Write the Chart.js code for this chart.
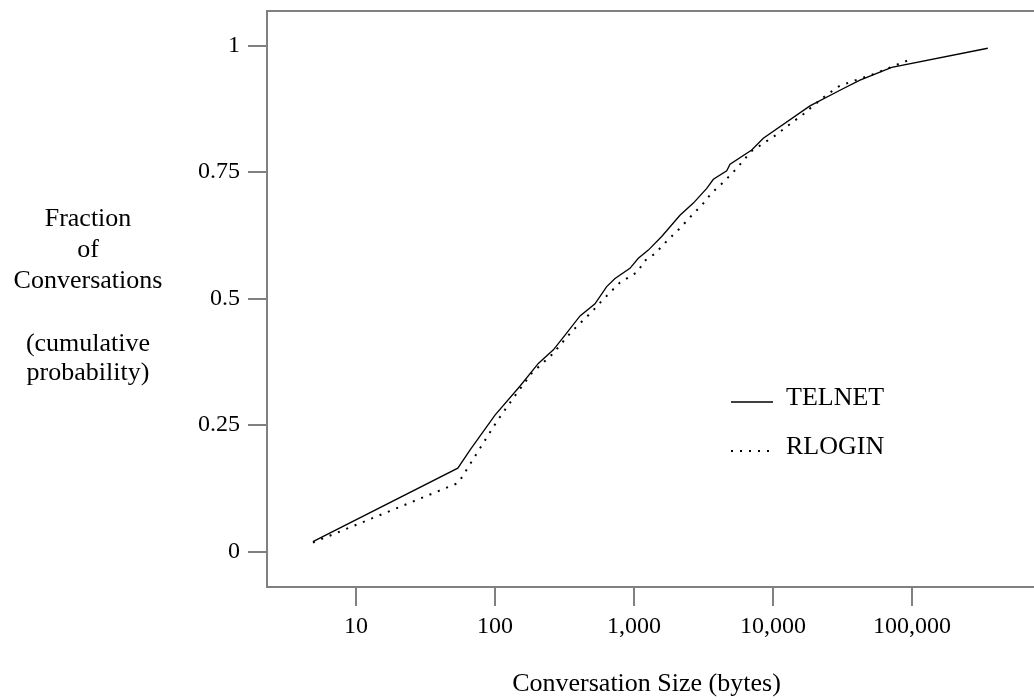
<!DOCTYPE html>
<html>
<head>
<meta charset="utf-8">
<script src="https://cdn.jsdelivr.net/npm/chart.js@4/dist/chart.umd.min.js"></script>
<style>
  html, body { margin: 0; padding: 0; background: #ffffff; }
  #wrap { width: 1034px; height: 700px; position: relative; }
</style>
</head>
<body>
<div id="wrap"><canvas id="cdf"></canvas></div>
<script>
// Conversation size (bytes) and cumulative fraction, per protocol
const telnetBytes = [4.9, 54, 67, 100, 151, 205, 263, 319, 409, 524, 636, 730, 935, 1074, 1268, 1582, 2142, 2673, 3337, 3724, 4647, 4909, 7030, 8517, 18450, 30340, 42270, 71450, 350800];
const telnetFraction = [0.020, 0.165, 0.203, 0.270, 0.327, 0.372, 0.399, 0.428, 0.466, 0.490, 0.524, 0.540, 0.560, 0.580, 0.596, 0.623, 0.665, 0.689, 0.718, 0.736, 0.753, 0.766, 0.794, 0.817, 0.881, 0.912, 0.932, 0.957, 0.995];

const rloginBytes = [4.9, 54.5, 81.6, 104, 139, 184, 256, 356, 497, 602, 793, 1064, 1181, 1416, 1737, 2120, 2570, 3120, 3622, 4390, 5420, 6950, 10450, 13240, 16790, 18980, 24330, 30340, 39530, 53330, 72610, 99500];
const rloginFraction = [0.018, 0.136, 0.213, 0.259, 0.308, 0.353, 0.389, 0.435, 0.474, 0.499, 0.532, 0.553, 0.574, 0.589, 0.615, 0.638, 0.663, 0.687, 0.709, 0.730, 0.756, 0.791, 0.823, 0.845, 0.866, 0.879, 0.903, 0.921, 0.932, 0.944, 0.959, 0.974];

const xTickValues = [10, 100, 1000, 10000, 100000];
const yTickValues = [0, 0.25, 0.5, 0.75, 1];
const yTickLabels = ['0', '0.25', '0.5', '0.75', '1'];

const seriesNames = ['TELNET', 'RLOGIN'];
const xTitle = 'Conversation Size (bytes)';
const yTitleLines = ['Fraction', 'of', 'Conversations', '', '(cumulative', 'probability)'];

const FONT = '"Liberation Serif", "Times New Roman", serif';
const AXIS_GREY = '#808080';

function pairs(xs, ys) {
  return xs.map((x, i) => ({ x: x, y: ys[i] }));
}

// Top border of the plot frame, axis titles and the in-plot legend
const frameAndText = {
  id: 'frameAndText',
  afterDraw(chart) {
    const { ctx, chartArea } = chart;
    ctx.save();
    ctx.strokeStyle = AXIS_GREY;
    ctx.lineWidth = 2;
    ctx.beginPath();
    ctx.moveTo(chartArea.left - 1, chartArea.top);
    ctx.lineTo(chart.width, chartArea.top);
    ctx.stroke();

    ctx.fillStyle = '#000000';
    ctx.font = '26px ' + FONT;
    ctx.textBaseline = 'alphabetic';

    // y-axis title, stacked horizontally
    ctx.textAlign = 'center';
    const yBase = [225.5, 256.5, 288, 319.5, 351, 380];
    yTitleLines.forEach((line, i) => {
      if (line) ctx.fillText(line, 88, yBase[i]);
    });

    // x-axis title
    ctx.fillText(xTitle, (chartArea.left + chartArea.right) / 2 - 4, 690.5);

    // legend
    ctx.textAlign = 'left';
    const legendRows = [{ y: 402, text: seriesNames[0], dash: [] },
                        { y: 451, text: seriesNames[1], dash: [2, 7] }];
    legendRows.forEach((row, i) => {
      const ds = chart.data.datasets[i];
      ctx.strokeStyle = ds.borderColor;
      ctx.lineWidth = ds.borderWidth;
      ctx.setLineDash(row.dash);
      ctx.beginPath();
      ctx.moveTo(731, row.y);
      ctx.lineTo(773, row.y);
      ctx.stroke();
      ctx.setLineDash([]);
      ctx.fillText(row.text, 786, row.y + 3);
    });
    ctx.restore();
  }
};

new Chart(document.getElementById('cdf'), {
  type: 'scatter',
  data: {
    datasets: [
      {
        label: seriesNames[0],
        data: pairs(telnetBytes, telnetFraction),
        showLine: true,
        borderColor: '#000000',
        borderWidth: 1.3,
        pointRadius: 0,
        tension: 0
      },
      {
        label: seriesNames[1],
        data: pairs(rloginBytes, rloginFraction),
        showLine: true,
        borderColor: '#000000',
        borderWidth: 2,
        borderDash: [2, 7],
        pointRadius: 0,
        tension: 0
      }
    ]
  },
  options: {
    responsive: true,
    maintainAspectRatio: false,
    animation: false,
    layout: { padding: { left: 0, top: 11, right: 0, bottom: 0 } },
    plugins: {
      legend: { display: false },
      tooltip: { enabled: false }
    },
    scales: {
      x: {
        type: 'logarithmic',
        min: 2.289,
        max: 754700,
        afterBuildTicks(scale) {
          scale.ticks = xTickValues.map(v => ({ value: v }));
        },
        afterFit(scale) {
          scale.height = 113;
          scale.paddingLeft = 0;
          scale.paddingRight = 0;
        },
        ticks: {
          autoSkip: false,
          maxRotation: 0,
          padding: 6,
          color: '#000000',
          font: { family: FONT, size: 24 },
          callback: (v) => Number(v).toLocaleString('en-US')
        },
        grid: {
          display: true,
          drawOnChartArea: false,
          drawTicks: true,
          tickLength: 19,
          color: AXIS_GREY,
          lineWidth: 2
        },
        border: { display: true, color: AXIS_GREY, width: 2 }
      },
      y: {
        type: 'linear',
        min: -0.0698,
        max: 1.0686,
        afterBuildTicks(scale) {
          scale.ticks = yTickValues.map(v => ({ value: v }));
        },
        afterFit(scale) {
          scale.width = 267;
          scale.paddingTop = 0;
          scale.paddingBottom = 0;
        },
        ticks: {
          autoSkip: false,
          padding: 8,
          color: '#000000',
          font: { family: FONT, size: 24 },
          callback: (v, i) => yTickLabels[i]
        },
        grid: {
          display: true,
          drawOnChartArea: false,
          drawTicks: true,
          tickLength: 19,
          color: AXIS_GREY,
          lineWidth: 2
        },
        border: { display: true, color: AXIS_GREY, width: 2 }
      }
    }
  },
  plugins: [frameAndText]
});
</script>
</body>
</html>
